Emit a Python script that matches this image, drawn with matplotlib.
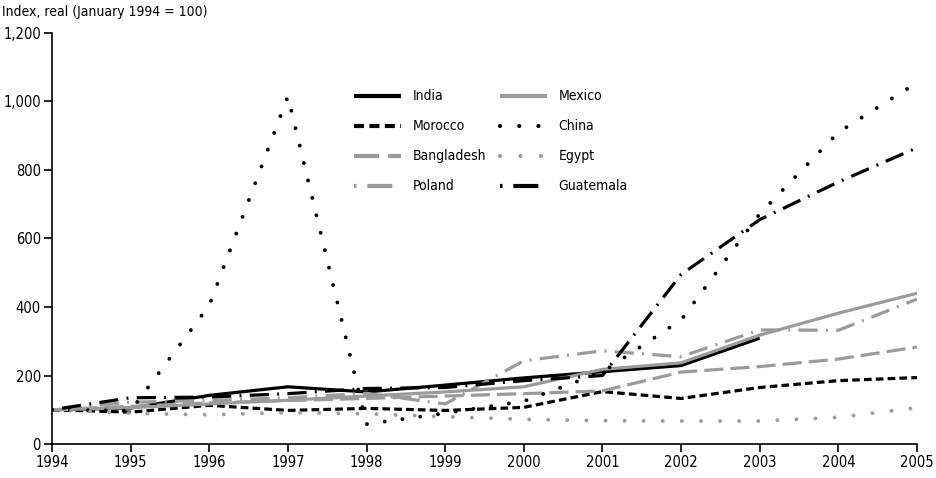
import numpy as np
import matplotlib
matplotlib.use("Agg")
import matplotlib.pyplot as plt
from matplotlib.ticker import FuncFormatter

plt.rcParams['font.family'] = ['DejaVu Sans']
plt.rcParams['font.stretch'] = 'condensed'

years = list(range(1994, 2006))
nan = np.nan
india = [100, 105, 142, 167, 152, 172, 193, 211, 229, 309, nan, nan]
mexico = [100, 106, 117, 128, 140, 152, 167, 218, 237, 318, 382, 440]
morocco = [100, 93, 113, 98, 104, 98, 107, 153, 133, 165, 185, 194]
china = [100, 97, 405, 1015, 58, 90, 125, 210, 362, 672, 910, 1055]
bangladesh = [100, 110, 120, 127, 133, 140, 147, 155, 210, 226, 248, 283]
egypt = [100, 90, 85, 92, 88, 80, 72, 68, 67, 67, 78, 106]
poland = [100, 122, 127, 135, 148, 117, 243, 272, 255, 333, 332, 423]
guatemala = [100, 135, 137, 147, 162, 165, 185, 200, 495, 655, 765, 865]

grey = '#9b9b9b'
lw = 2.3
series = [
    ("India", india, 'black', '-', 'butt', lw),
    ("Morocco", morocco, 'black', (0, (2.4, 1.3)), 'butt', lw),
    ("Bangladesh", bangladesh, grey, (0, (6, 2.2)), 'butt', lw),
    ("Poland", poland, grey, (0, (0.6, 2.6, 6, 2.6)), 'butt', lw),
    ("Mexico", mexico, grey, '-', 'butt', lw),
    ("China", china, 'black', (0, (0.01, 4.6)), 'round', 2.8),
    ("Egypt", egypt, grey, (0, (0.01, 4.9)), 'round', 2.8),
    ("Guatemala", guatemala, 'black', (0, (0.6, 2.6, 6, 2.6)), 'butt', lw),
]

fig = plt.figure(figsize=(9.37, 4.78), dpi=100)
ax = fig.add_axes([52/937, 1-444/478, 865/937, 411/478])

for name, vals, col, ls, cap, w in series:
    ax.plot(years, vals, color=col, linestyle=ls, linewidth=w,
            dash_capstyle=cap, solid_capstyle='butt', label=name)

ax.set_xlim(1994, 2005)
ax.set_ylim(0, 1200)
ax.set_xticks(years)
ax.set_yticks(range(0, 1201, 200))
ax.yaxis.set_major_formatter(FuncFormatter(lambda v, p: f"{int(v):,}"))
for s in ['top', 'right']:
    ax.spines[s].set_visible(False)
for s in ['left', 'bottom']:
    ax.spines[s].set_linewidth(1.2)
ax.tick_params(axis='both', direction='out', length=6, width=1.2, labelsize=10.5, pad=2)

fig.text(2/937, 1-12/478, "Index, real (January 1994 = 100)", fontsize=10,
         ha='left', va='center')

leg = ax.legend(ncol=2, loc='upper left', bbox_to_anchor=(0.335, 0.893),
                frameon=False, fontsize=10, handlelength=3.4, handletextpad=0.8,
                columnspacing=1.0, labelspacing=1.15)
for h in leg.get_lines():
    h.set_linewidth(3)

fig.savefig("out.png", dpi=100)
